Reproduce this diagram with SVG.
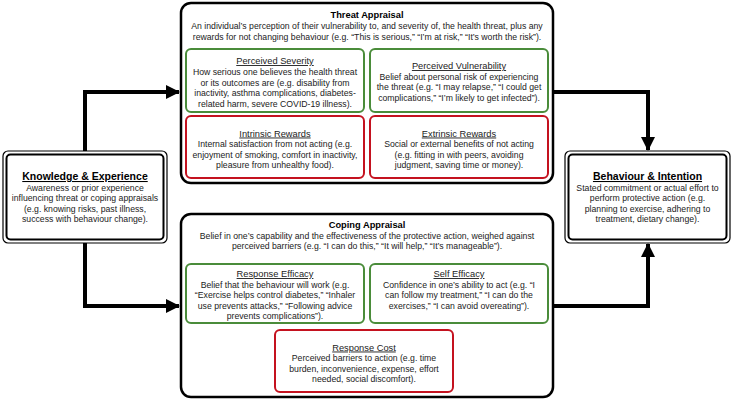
<svg xmlns="http://www.w3.org/2000/svg" width="733" height="400" viewBox="0 0 733 400">
<defs>
<marker id="ah" markerUnits="userSpaceOnUse" markerWidth="14" markerHeight="14" viewBox="0 0 14 14" refX="13" refY="7" orient="auto">
<path d="M0,0 L14,7 L0,14 Z" fill="#000"/>
</marker>
<style>
text{font-family:"Liberation Sans",Arial,sans-serif;font-size:8.7px;fill:#222;text-anchor:middle}
.h{font-weight:bold;font-size:9.3px;fill:#000}
.hb{font-weight:bold;font-size:10.5px;fill:#000;text-decoration:underline}
.u{font-size:9.3px;text-decoration:underline}
.main{fill:#fff;stroke:#000;stroke-width:2.5}
.g{fill:#fff;stroke:#4a8c3a;stroke-width:2}
.r{fill:#fff;stroke:#c4121f;stroke-width:2}
.o1{fill:#fff;stroke:#000;stroke-width:1.2}
.o2{fill:none;stroke:#000;stroke-width:2}
.c{fill:none;stroke:#000;stroke-width:4}
</style>
</defs>
<rect width="733" height="400" fill="#fff"/>
<g id="connectors">
<path class="c" d="M85,151 V92 H179" marker-end="url(#ah)"/>
<path class="c" d="M85,243 V306 H179" marker-end="url(#ah)"/>
<path class="c" d="M553,92 H648 V150" marker-end="url(#ah)"/>
<path class="c" d="M553,306 H648 V244" marker-end="url(#ah)"/>
</g>
<g id="threat">
<rect class="main" x="181" y="3" width="372" height="180" rx="10"/>
<text class="h" x="367" y="17.5">Threat Appraisal</text>
<text x="367" y="28.5">An individual’s perception of their vulnerability to, and severity of, the health threat, plus any</text>
<text x="367" y="39.5">rewards for not changing behaviour (e.g. “This is serious,” “I’m at risk,” “It’s worth the risk”).</text>
</g>
<g id="severity">
<rect class="g" x="186" y="49" width="178" height="63" rx="5"/>
<text class="u" x="275" y="64">Perceived Severity</text>
<text x="275" y="75">How serious one believes the health threat</text>
<text x="275" y="85.5">or its outcomes are (e.g. disability from</text>
<text x="275" y="96">inactivity, asthma complications, diabetes-</text>
<text x="275" y="106.5">related harm, severe COVID-19 illness).</text>
</g>
<g id="vulnerability">
<rect class="g" x="370" y="49" width="178" height="63" rx="5"/>
<text class="u" x="459" y="69">Perceived Vulnerability</text>
<text x="459" y="79.5">Belief about personal risk of experiencing</text>
<text x="459" y="90">the threat (e.g. “I may relapse,” “I could get</text>
<text x="459" y="100.5">complications,” “I’m likely to get infected”).</text>
</g>
<g id="intrinsic">
<rect class="r" x="186" y="116" width="178" height="62" rx="5"/>
<text class="u" x="275" y="136.5">Intrinsic Rewards</text>
<text x="275" y="147">Internal satisfaction from not acting (e.g.</text>
<text x="275" y="157.5">enjoyment of smoking, comfort in inactivity,</text>
<text x="275" y="168">pleasure from unhealthy food).</text>
</g>
<g id="extrinsic">
<rect class="r" x="370" y="116" width="178" height="62" rx="5"/>
<text class="u" x="459" y="136.5">Extrinsic Rewards</text>
<text x="459" y="147">Social or external benefits of not acting</text>
<text x="459" y="157.5">(e.g. fitting in with peers, avoiding</text>
<text x="459" y="168">judgment, saving time or money).</text>
</g>
<g id="knowledge">
<rect class="o1" x="3" y="151" width="164" height="92" rx="5"/>
<rect class="o2" x="6.5" y="154.5" width="157" height="85" rx="4"/>
<text class="hb" x="85" y="180">Knowledge &amp; Experience</text>
<text x="85" y="190.5">Awareness or prior experience</text>
<text x="85" y="201">influencing threat or coping appraisals</text>
<text x="85" y="211.5">(e.g. knowing risks, past illness,</text>
<text x="85" y="222">success with behaviour change).</text>
</g>
<g id="behaviour">
<rect class="o1" x="565" y="151" width="165" height="92" rx="5"/>
<rect class="o2" x="568.5" y="154.5" width="158" height="85" rx="4"/>
<text class="hb" x="647.5" y="180">Behaviour &amp; Intention</text>
<text x="647.5" y="190.5">Stated commitment or actual effort to</text>
<text x="647.5" y="201">perform protective action (e.g.</text>
<text x="647.5" y="211.5">planning to exercise, adhering to</text>
<text x="647.5" y="222">treatment, dietary change).</text>
</g>
<g id="coping">
<rect class="main" x="181" y="214" width="372" height="183" rx="10"/>
<text class="h" x="367" y="228">Coping Appraisal</text>
<text x="367" y="238.5">Belief in one’s capability and the effectiveness of the protective action, weighed against</text>
<text x="367" y="249">perceived barriers (e.g. “I can do this,” “It will help,” “It’s manageable”).</text>
</g>
<g id="response-efficacy">
<rect class="g" x="186" y="264" width="178" height="59" rx="5"/>
<text class="u" x="275" y="277">Response Efficacy</text>
<text x="275" y="287.5">Belief that the behaviour will work (e.g.</text>
<text x="275" y="298">“Exercise helps control diabetes,” “Inhaler</text>
<text x="275" y="308.5">use prevents attacks,” “Following advice</text>
<text x="275" y="319">prevents complications”).</text>
</g>
<g id="self-efficacy">
<rect class="g" x="370" y="264" width="178" height="59" rx="5"/>
<text class="u" x="459" y="277">Self Efficacy</text>
<text x="459" y="287.5">Confidence in one’s ability to act (e.g. “I</text>
<text x="459" y="298">can follow my treatment,” “I can do the</text>
<text x="459" y="308.5">exercises,” “I can avoid overeating”).</text>
</g>
<g id="response-cost">
<rect class="r" x="275" y="330" width="178" height="62" rx="5"/>
<text class="u" x="364" y="350.5">Response Cost</text>
<text x="364" y="361">Perceived barriers to action (e.g. time</text>
<text x="364" y="371.5">burden, inconvenience, expense, effort</text>
<text x="364" y="382">needed, social discomfort).</text>
</g>
</svg>
